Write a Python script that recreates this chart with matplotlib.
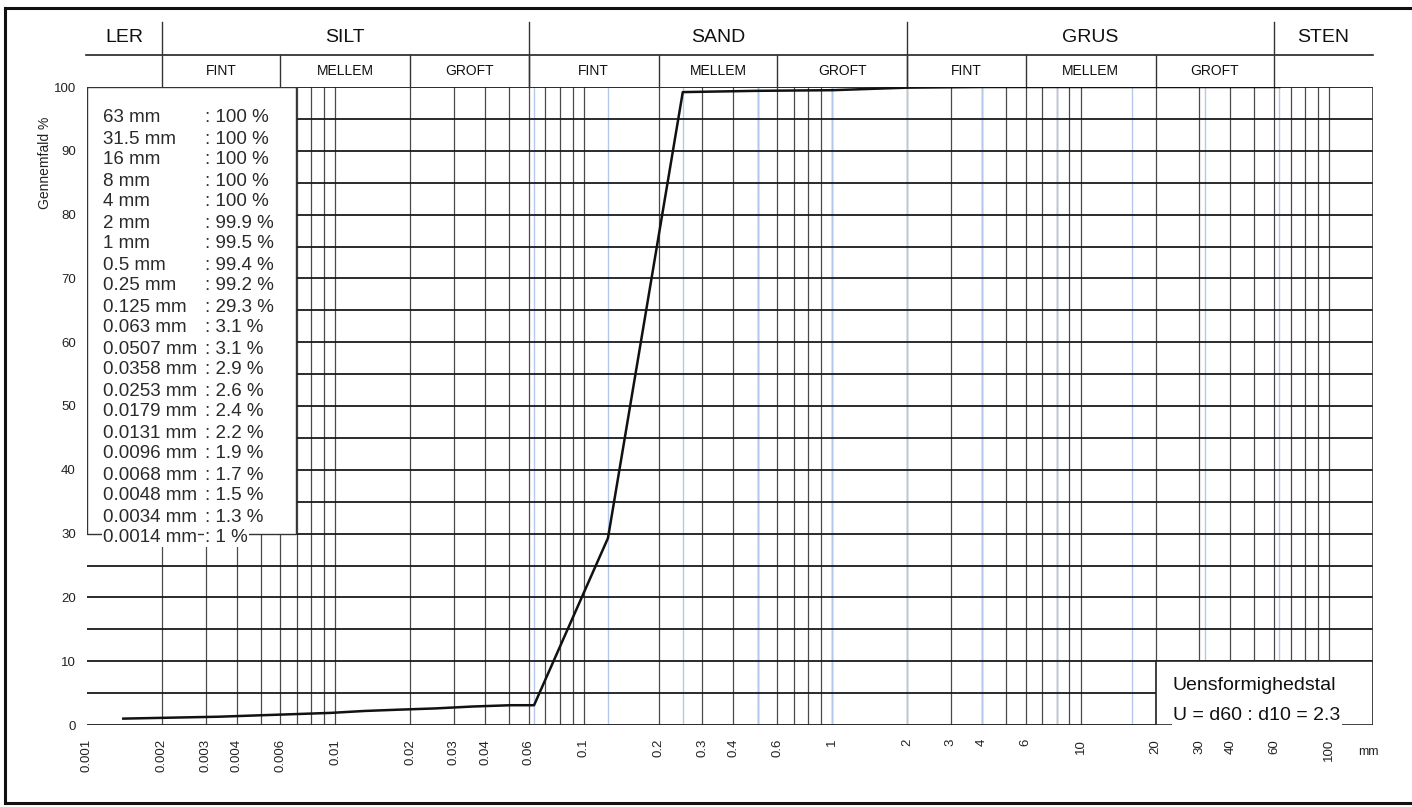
import matplotlib.pyplot as plt
import matplotlib.patches as mpatches
import numpy as np

plt.rcParams['font.family'] = ['Liberation Sans', 'DejaVu Sans']

# sieve analysis results
sieve_mm = [63, 31.5, 16, 8, 4, 2, 1, 0.5, 0.25, 0.125, 0.063,
            0.0507, 0.0358, 0.0253, 0.0179, 0.0131, 0.0096, 0.0068,
            0.0048, 0.0034, 0.0014]
passing = [100, 100, 100, 100, 100, 99.9, 99.5, 99.4, 99.2, 29.3, 3.1,
           3.1, 2.9, 2.6, 2.4, 2.2, 1.9, 1.7, 1.5, 1.3, 1]
sieve_txt = ['63', '31.5', '16', '8', '4', '2', '1', '0.5', '0.25', '0.125',
             '0.063', '0.0507', '0.0358', '0.0253', '0.0179', '0.0131',
             '0.0096', '0.0068', '0.0048', '0.0034', '0.0014']
pass_txt = ['100', '100', '100', '100', '100', '99.9', '99.5', '99.4', '99.2',
            '29.3', '3.1', '3.1', '2.9', '2.6', '2.4', '2.2', '1.9', '1.7',
            '1.5', '1.3', '1']

# main fractions and sub fractions (boundaries in mm)
main_names = ['LER', 'SILT', 'SAND', 'GRUS', 'STEN']
main_bounds = [0.001, 0.002, 0.06, 2, 60, 150]
sub_names = ['FINT', 'MELLEM', 'GROFT', 'FINT', 'MELLEM', 'GROFT',
             'FINT', 'MELLEM', 'GROFT']
sub_bounds = [0.002, 0.006, 0.02, 0.06, 0.2, 0.6, 2, 6, 20, 60]

xtick_vals = [0.001, 0.002, 0.003, 0.004, 0.006, 0.01, 0.02, 0.03, 0.04,
              0.06, 0.1, 0.2, 0.3, 0.4, 0.6, 1, 2, 3, 4, 6, 10, 20, 30, 40,
              60, 100]
xtick_txt = ['0.001', '0.002', '0.003', '0.004', '0.006', '0.01', '0.02',
             '0.03', '0.04', '0.06', '0.1', '0.2', '0.3', '0.4', '0.6', '1',
             '2', '3', '4', '6', '10', '20', '30', '40', '60', '100']

W, H = 1412, 807
fig = plt.figure(figsize=(W / 100, H / 100), dpi=100)
L, R, T, B = 87, 1373, 87, 725
ax = fig.add_axes([L / W, 1 - B / H, (R - L) / W, (B - T) / H])
ax.set_xscale('log')
ax.set_xlim(0.001, 150)
ax.set_ylim(0, 100)

# grid: vertical lines at 1..9 x 10^k, horizontal every 5 %
for k in range(-3, 3):
    for n in range(1, 10):
        v = n * 10.0 ** k
        if v <= 0.001 or v > 150:
            continue
        ax.axvline(v, color='#4a4a4a', lw=0.9, zorder=1)
for s in sieve_mm:
    if s >= 0.063:
        ax.axvline(s, color='#b5c8ec', lw=1.0, zorder=1.2)
for y in range(0, 101, 5):
    ax.axhline(y, color='#1a1a1a', lw=1.3, zorder=1.5)
ax.axvline(150, color='#333333', lw=1.2, zorder=1.5)

order = np.argsort(sieve_mm)
ax.plot(np.array(sieve_mm)[order], np.array(passing)[order],
        color='#111111', lw=1.8, zorder=4)

for sp in ax.spines.values():
    sp.set_visible(False)
ax.tick_params(length=0, labelsize=9.5, colors='#222222')
ax.set_yticks(range(0, 101, 10))
ax.tick_params(axis='y', pad=8)
ax.set_xticks(xtick_vals)
ax.set_xticklabels(xtick_txt, rotation=90, va='top')
ax.tick_params(axis='x', pad=10)
ax.minorticks_off()

# header above the plot
xt = ax.get_xaxis_transform()
y_mid, y_top = 1.050, 1.102
ax.plot([0.00099, 150], [y_mid, y_mid], color='#222222', lw=1.2,
        transform=xt, clip_on=False)
for b in main_bounds[1:-1]:
    ax.plot([b, b], [1.0, y_top], color='#333333', lw=1.0, transform=xt,
            clip_on=False)
for b in sub_bounds[1:-1]:
    ax.plot([b, b], [1.0, y_mid], color='#333333', lw=1.0, transform=xt,
            clip_on=False)
for i, name in enumerate(main_names):
    xc = np.sqrt(main_bounds[i] * main_bounds[i + 1])
    ax.text(xc, (y_mid + y_top) / 2 + 0.002, name, transform=xt,
            ha='center', va='center', fontsize=14, color='#111111')
for i, name in enumerate(sub_names):
    xc = np.sqrt(sub_bounds[i] * sub_bounds[i + 1])
    ax.text(xc, (1.0 + y_mid) / 2, name, transform=xt, ha='center',
            va='center', fontsize=10, color='#111111')

# result table in the upper left corner
ax.add_patch(mpatches.Rectangle((0.001, 30), 0.00693 - 0.001, 70,
                                facecolor='white', edgecolor='#333333',
                                lw=1.0, zorder=5))
for i, (s, p) in enumerate(zip(sieve_txt, pass_txt)):
    yp = 118 + 21 * i
    ya = (B - yp) / (B - T)
    ax.text(16 / (R - L), ya, s + ' mm', transform=ax.transAxes,
            ha='left', va='center', fontsize=13.5, color='#2a2a2a', zorder=6,
            bbox=dict(facecolor='white', edgecolor='none', pad=0.5))
    ax.text(118 / (R - L), ya, ': ' + p + ' %', transform=ax.transAxes,
            ha='left', va='center', fontsize=13.5, color='#2a2a2a', zorder=6,
            bbox=dict(facecolor='white', edgecolor='none', pad=0.5))

# uniformity coefficient box
ax.add_patch(mpatches.Rectangle((20, 0), 130, 10, facecolor='white',
                                edgecolor='#222222', lw=1.2, zorder=5))
ax.text(1173 / W, 1 - 685 / H, 'Uensformighedstal', transform=fig.transFigure,
        ha='left', va='center', fontsize=14, color='#111111', zorder=6)
ax.text(1173 / W, 1 - 716 / H, 'U = d60 : d10 = 2.3', transform=fig.transFigure,
        ha='left', va='center', fontsize=14, color='#111111', zorder=6,
        bbox=dict(facecolor='white', edgecolor='none', pad=1))

fig.text(1358 / W, 1 - 752 / H, 'mm', ha='left', va='center', fontsize=9,
         color='#222222')
fig.text(45 / W, 1 - 163 / H, 'Gennemfald %', rotation=90, ha='center',
         va='center', fontsize=10, color='#222222')

# outer frame
for xs, ys in [((5, 1412), (8, 8)), ((5, 5), (8, 803)), ((5, 1412), (803, 803))]:
    fig.add_artist(plt.Line2D([x / W for x in xs], [1 - y / H for y in ys],
                              color='#111111', lw=2.2))

fig.savefig('out.png', dpi=100)
